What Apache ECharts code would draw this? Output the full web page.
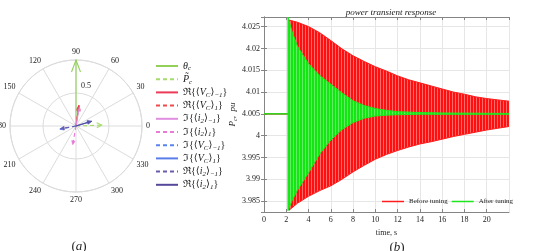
<!DOCTYPE html>
<html><head><meta charset="utf-8">
<script src="https://cdn.jsdelivr.net/npm/echarts@6.0.0/dist/echarts.min.js"></script>
<style>html,body{margin:0;padding:0;background:#fff}#c{width:540px;height:251px}</style>
</head><body><div id="c"></div>
<script>
const FONT = "'Liberation Serif','DejaVu Serif',serif";

// ---- (a) phasor diagram data ----
const phasorNames = ['thc','Pc','ReVCm1','ReVC1','Imi2m1','Imi21','ImVCm1','ImVC1','Rei2m1','Rei21'];
const phasorLabels = [
  '{i|θ}{s|c}',
  '{i|P̃}{s|c}',
  'ℜ{⟨{i|V}{s|C}⟩{s|−1}}',
  'ℜ{⟨{i|V}{s|C}⟩{s|1}}',
  'ℑ{⟨{i|i}{s|2}⟩{s|−1}}',
  'ℑ{⟨{i|i}{s|2}⟩{s|1}}',
  'ℑ{⟨{i|V}{s|C}⟩{s|−1}}',
  'ℑ{⟨{i|V}{s|C}⟩{s|1}}',
  'ℜ{⟨{i|i}{s|2}⟩{s|−1}}',
  'ℜ{⟨{i|i}{s|2}⟩{s|1}}'
];
const phasorMag = [1.0, 0.39, 0.32, 0.31, 0.29, 0.29, 0.25, 0.24, 0.24, 0.25];
const phasorAng = [90, 2, 82, 82, 80, 260, 191, 17, 190, 17];

// ---- (b) power transient envelopes ----
const redT     = [0, 2.25, 2.25, 3, 4, 5, 6, 7, 8, 9, 10, 11, 12, 13, 14, 15, 16, 17, 18, 19, 20, 21, 22];
const redUpper = [4.005, 4.005, 4.0265, 4.0260, 4.0250, 4.0236, 4.0218, 4.0199, 4.0183, 4.0170, 4.0158, 4.0148, 4.0137, 4.0128, 4.0121, 4.0114, 4.0107, 4.0100, 4.0095, 4.0089, 4.0085, 4.0082, 4.0079];
const redLower = [4.005, 4.005, 3.9829, 3.9845, 3.9861, 3.9874, 3.9885, 3.9900, 3.9917, 3.9932, 3.9946, 3.9957, 3.9966, 3.9974, 3.9981, 3.9986, 3.9992, 3.9998, 4.0003, 4.0008, 4.0013, 4.0017, 4.0021];
const greenT     = [0, 2.15, 2.15, 2.5, 3, 3.5, 4, 5, 6, 7, 8, 9, 10, 11, 12, 14, 16, 22];
const greenUpper = [4.005, 4.005, 4.0272, 4.0240, 4.0205, 4.0185, 4.0165, 4.0138, 4.0118, 4.0098, 4.0080, 4.0069, 4.0062, 4.0058, 4.0055, 4.0053, 4.0052, 4.0051];
const greenLower = [4.005, 4.005, 3.9828, 3.9850, 3.9875, 3.9895, 3.9915, 3.9958, 3.9990, 4.0014, 4.0030, 4.0040, 4.0045, 4.0047, 4.0048, 4.0049, 4.0049, 4.0049];
const seriesNames = ['Before tuning', 'After tuning'];

// ---- styles ----
const pColors = ['#92d05a','#a6dc6c','#ec3a58','#f04a4a','#e08ee0','#e87ad8','#5a84ec','#5a7ee8','#6c5cac','#56489a'];
const pDashed = [false,true,false,true,false,true,true,false,true,false];
const pHeadOpen = [true,true,false,false,false,false,false,false,false,false];
const pHeadLen = [12,5,5,5,4,4,4,4,4,4];
const pHeadW = [4.5,2.5,2,2,1.8,1.8,1.8,1.8,1.8,1.8];

function stripes(cols) {
  const cv = document.createElement('canvas');
  cv.width = cols.length; cv.height = 1;
  const ctx = cv.getContext('2d');
  cols.forEach((c, k) => { ctx.fillStyle = c; ctx.fillRect(k, 0, 1, 1); });
  return { image: cv, repeat: 'repeat' };
}

const chart = echarts.init(document.getElementById('c'));

const series = [];
phasorNames.forEach((n, i) => {
  series.push({
    name: n, type: 'line', coordinateSystem: 'polar', polarIndex: 0,
    symbol: 'none', silent: true, animation: false,
    lineStyle: { color: pColors[i], width: 1.1, type: pDashed[i] ? [4, 3] : 'solid' },
    itemStyle: { color: pColors[i] },
    data: [[0, phasorAng[i]], [phasorMag[i], phasorAng[i]]]
  });
});
series.push({
  type: 'custom', coordinateSystem: 'polar', polarIndex: 0, silent: true, animation: false,
  data: phasorMag.map((m, i) => [m, phasorAng[i], i]),
  renderItem(params, api) {
    const i = api.value(2);
    const tip = api.coord([api.value(0), api.value(1)]);
    const c = api.coord([0, api.value(1)]);
    const dx = tip[0] - c[0], dy = tip[1] - c[1];
    const L = Math.hypot(dx, dy) || 1;
    const ux = dx / L, uy = dy / L;
    const bx = tip[0] - ux * pHeadLen[i], by = tip[1] - uy * pHeadLen[i];
    const p1 = [bx - uy * pHeadW[i], by + ux * pHeadW[i]];
    const p2 = [bx + uy * pHeadW[i], by - ux * pHeadW[i]];
    if (pHeadOpen[i]) {
      return { type: 'polyline', shape: { points: [p1, [tip[0], tip[1]], p2] },
        style: { stroke: pColors[i], lineWidth: 1.1, fill: null } };
    }
    return { type: 'polygon', shape: { points: [p1, [tip[0], tip[1]], p2] },
      style: { fill: pColors[i], stroke: pColors[i], lineWidth: 0.5 } };
  }
});

function band(name, T, lo, up, color, fillPattern) {
  series.push({
    name: name, type: 'custom', xAxisIndex: 0, yAxisIndex: 0, silent: true, animation: false,
    clip: true,
    itemStyle: { color: color },
    encode: { x: 0, y: [1, 2] },
    data: T.map((t, k) => [t, lo[k], up[k]]),
    renderItem(params, api) {
      if (params.dataIndex !== 0) return null;
      const pts = [];
      for (let k = 0; k < T.length; k++) pts.push(api.coord([T[k], up[k]]));
      for (let k = T.length - 1; k >= 0; k--) pts.push(api.coord([T[k], lo[k]]));
      return { type: 'polygon', shape: { points: pts },
        style: { fill: fillPattern, stroke: color, lineWidth: 1 } };
    }
  });
}
band(seriesNames[0], redT, redLower, redUpper, '#ff1c1c', stripes(['#ff1010', '#ff1010', '#ff6a6a']));
band(seriesNames[1], greenT, greenLower, greenUpper, '#1ee61e', stripes(['#14e614', '#14e614', '#62ee62']));

const axisGray = '#858585';
const gridGray = '#e6e6e6';
const yLabelFmt = v => String(+(+v).toFixed(3));

chart.setOption({
  backgroundColor: '#fff',
  animation: false,
  title: [
    { text: 'power transient response', left: 386, top: 3, textAlign: 'center',
      textStyle: { fontFamily: FONT, fontStyle: 'italic', fontWeight: 'normal', fontSize: 9, color: '#222' } },
    { text: '({i|a})', left: 74, top: 235, textAlign: 'center',
      textStyle: { fontFamily: FONT, fontWeight: 'normal', fontSize: 13, color: '#222',
        rich: { i: { fontFamily: FONT, fontStyle: 'italic', fontSize: 13, color: '#222' } } } },
    { text: '({i|b})', left: 392, top: 236, textAlign: 'center',
      textStyle: { fontFamily: FONT, fontWeight: 'normal', fontSize: 13, color: '#222',
        rich: { i: { fontFamily: FONT, fontStyle: 'italic', fontSize: 13, color: '#222' } } } }
  ],
  legend: [
    { data: phasorNames, orient: 'vertical', left: 150, top: 55,
      itemWidth: 22, itemHeight: 10, itemGap: 1.2, selectedMode: false,
      itemStyle: { opacity: 0 },
      formatter: n => phasorLabels[phasorNames.indexOf(n)],
      textStyle: { fontFamily: FONT, fontSize: 10, color: '#222', lineHeight: 12,
        rich: {
          i: { fontFamily: FONT, fontStyle: 'italic', fontSize: 10, color: '#222', lineHeight: 12 },
          s: { fontFamily: FONT, fontStyle: 'italic', fontSize: 7, color: '#222', lineHeight: 7, verticalAlign: 'bottom' }
        } } },
    { data: seriesNames.map(n => ({ name: n, icon: 'rect' })), orient: 'horizontal', left: 377, top: 193,
      itemWidth: 22, itemHeight: 1.5, itemGap: 4, selectedMode: false,
      textStyle: { fontFamily: FONT, fontSize: 7, color: '#222' } }
  ],
  polar: { center: [76, 126], radius: 66 },
  angleAxis: {
    type: 'value', min: 0, max: 360, interval: 30, startAngle: 0, clockwise: false,
    axisLine: { lineStyle: { color: '#dcdcdc' } },
    axisTick: { show: false },
    axisLabel: { fontFamily: FONT, fontSize: 8, color: '#222', margin: 4 },
    splitLine: { show: true, lineStyle: { color: '#dcdcdc' } }
  },
  radiusAxis: {
    type: 'value', min: 0, max: 1, interval: 0.5,
    axisLine: { show: false }, axisTick: { show: false }, axisLabel: { show: false },
    splitLine: { show: true, lineStyle: { color: '#dcdcdc' } }
  },
  graphic: [
    { type: 'text', left: 81, top: 82, style: { text: '0.5', font: '8px ' + FONT, fill: '#222' } }
  ],
  grid: { left: 264, top: 17, width: 245, height: 195 },
  xAxis: [
    { type: 'value', min: 0, max: 22, interval: 2, position: 'bottom',
      name: 'time, s', nameLocation: 'middle', nameGap: 10,
      nameTextStyle: { fontFamily: FONT, fontSize: 8, color: '#222' },
      axisLine: { lineStyle: { color: axisGray } },
      axisTick: { inside: true, length: 3, lineStyle: { color: axisGray } },
      axisLabel: { fontFamily: FONT, fontSize: 8, color: '#222', margin: 4, showMaxLabel: false },
      splitLine: { show: true, lineStyle: { color: gridGray } } },
    { type: 'value', min: 0, max: 22, interval: 2, position: 'top',
      axisLine: { lineStyle: { color: axisGray } },
      axisTick: { inside: true, length: 3, lineStyle: { color: axisGray } },
      axisLabel: { show: false }, splitLine: { show: false } }
  ],
  yAxis: [
    { type: 'value', min: 3.9825, max: 4.0272, splitNumber: 9, position: 'left',
      name: '{i|P}{s|c}{i|,  pu}', nameLocation: 'middle', nameGap: 25,
      nameTextStyle: { fontFamily: FONT, fontSize: 9, color: '#222',
        rich: { i: { fontFamily: FONT, fontStyle: 'italic', fontSize: 9, color: '#222', lineHeight: 11 },
                s: { fontFamily: FONT, fontStyle: 'italic', fontSize: 6, color: '#222', lineHeight: 6, verticalAlign: 'bottom' } } },
      axisLine: { lineStyle: { color: axisGray } },
      axisTick: { inside: true, length: 3, lineStyle: { color: axisGray } },
      axisLabel: { fontFamily: FONT, fontSize: 8, color: '#222', margin: 4,
        showMinLabel: false, showMaxLabel: false, formatter: yLabelFmt },
      splitLine: { show: true, lineStyle: { color: gridGray } } },
    { type: 'value', min: 3.9825, max: 4.0272, splitNumber: 9, position: 'right',
      axisLine: { show: true, lineStyle: { color: axisGray } },
      axisTick: { show: true, inside: true, length: 3, lineStyle: { color: axisGray } },
      axisLabel: { show: false }, splitLine: { show: false } }
  ],
  series: series
});
</script>
</body></html>
